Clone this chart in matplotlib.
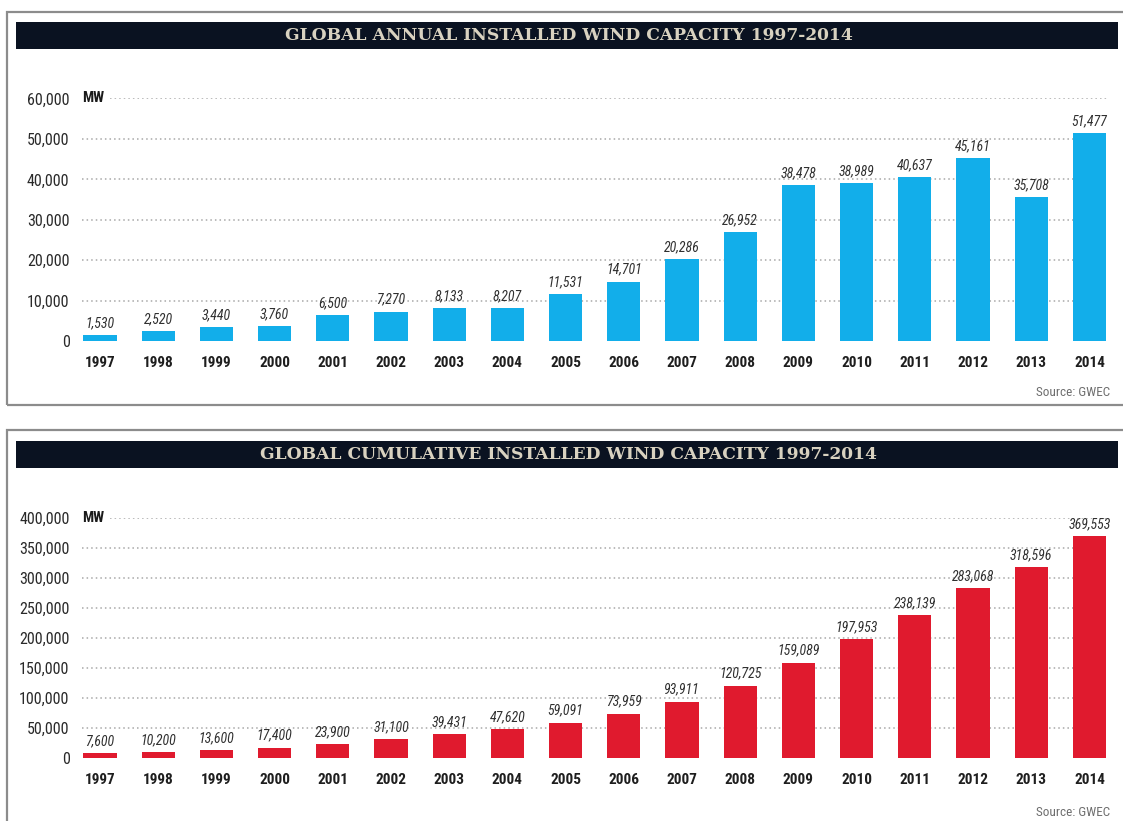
import matplotlib
matplotlib.use("Agg")
import matplotlib.pyplot as plt
from matplotlib import font_manager as fm
from matplotlib.patches import Rectangle
from matplotlib.transforms import blended_transform_factory

# Data
years = list(range(1997, 2015))
annual = [1530, 2520, 3440, 3760, 6500, 7270, 8133, 8207, 11531, 14701,
          20286, 26952, 38478, 38989, 40637, 45161, 35708, 51477]
cumulative = [7600, 10200, 13600, 17400, 23900, 31100, 39431, 47620, 59091,
              73959, 93911, 120725, 159089, 197953, 238139, 283068, 318596, 369553]
annual_ticks = [0, 10000, 20000, 30000, 40000, 50000, 60000]
cumul_ticks = [0, 50000, 100000, 150000, 200000, 250000, 300000, 350000, 400000]

titles = ["GLOBAL ANNUAL INSTALLED WIND CAPACITY 1997-2014",
          "GLOBAL CUMULATIVE INSTALLED WIND CAPACITY 1997-2014"]

BLUE = "#12aeea"
RED = "#e01a2e"
NAVY = "#0a1221"

# narrow sans font for labels, fall back to DejaVu Sans
names = {f.name for f in fm.fontManager.ttflist}
COND = "DejaVu Sans"
for cand in ["Roboto Condensed", "Liberation Sans Narrow"]:
    if cand in names:
        COND = cand
        break

W, H = 1123, 821
fig = plt.figure(figsize=(W / 100, H / 100), dpi=100)


def fx(px):
    return px / W


def fy(py):
    return 1 - py / H


# panel frames and title bars (pixel positions)
for top, bottom, bar_top in [(12, 405, 22), (430, 830, 441)]:
    fig.patches.append(Rectangle((fx(7), fy(bottom)), fx(1125 - 7), (bottom - top) / H,
                                 transform=fig.transFigure, fill=False,
                                 edgecolor="#8c8c8c", lw=1.6))
    fig.patches.append(Rectangle((fx(16), fy(bar_top + 27)), fx(1118 - 16), 27 / H,
                                 transform=fig.transFigure, facecolor=NAVY,
                                 edgecolor="none"))

for title, bar_top in zip(titles, [22, 441]):
    fig.text(fx(569), fy(bar_top + 13.5), title, ha="center", va="center",
             family="DejaVu Serif", weight="bold", fontsize=12.3, color="#d9d2c0")


def draw_panel(zero_px, top_px, top_val, values, ticks, color, src_px):
    left_px, right_px = 70.9, 1106.9
    ax = fig.add_axes([fx(left_px), fy(zero_px), fx(right_px - left_px),
                       (zero_px - top_px) / H])
    x = list(range(len(years)))
    ax.bar(x, values, width=0.57, color=color, zorder=3)
    ax.set_xlim(-0.5, 17.3)
    ax.set_ylim(0, top_val)
    for s in ax.spines.values():
        s.set_visible(False)
    ax.set_xticks([])
    ax.set_yticks(ticks)
    ax.set_yticklabels([f"{t:,}" for t in ticks], family=COND, fontsize=11.5,
                       color="#2a2a2a")
    ax.tick_params(axis="y", length=0, pad=1)
    width_px = right_px - left_px
    for t in ticks[1:]:
        start = (110 - left_px) / width_px if t == ticks[-1] else (82 - left_px) / width_px
        ax.axhline(t, xmin=start, xmax=1, color="#a8a8a8", lw=1.1,
                   linestyle=(0, (1, 2)), zorder=1)
    trans = blended_transform_factory(ax.transAxes, ax.transData)
    ax.text((82 - left_px) / width_px, ticks[-1], "MW", transform=trans,
            ha="left", va="center", family=COND, weight="bold", fontsize=10.5,
            color="#1a1a1a")
    for i, v in enumerate(values):
        ax.annotate(f"{v:,}", (i, v), xytext=(0, 3.5), textcoords="offset points",
                    ha="center", va="bottom", family=COND, style="italic",
                    fontsize=10, color="#303030", annotation_clip=False)
        ax.annotate(str(years[i]), (i, 0), xycoords=("data", "axes fraction"),
                    xytext=(0, -15.5), textcoords="offset points", ha="center",
                    va="center", family=COND, weight="bold", fontsize=11,
                    color="#1e1e1e", annotation_clip=False)
    fig.text(fx(1110), fy(src_px), "Source: GWEC", ha="right", va="center",
             family=COND, fontsize=9.5, color="#6e6e6e")
    return ax


draw_panel(341, 98.5, 60000, annual, annual_ticks, BLUE, 392)
draw_panel(758, 518, 400000, cumulative, cumul_ticks, RED, 812)

fig.savefig("out.png", dpi=100)
